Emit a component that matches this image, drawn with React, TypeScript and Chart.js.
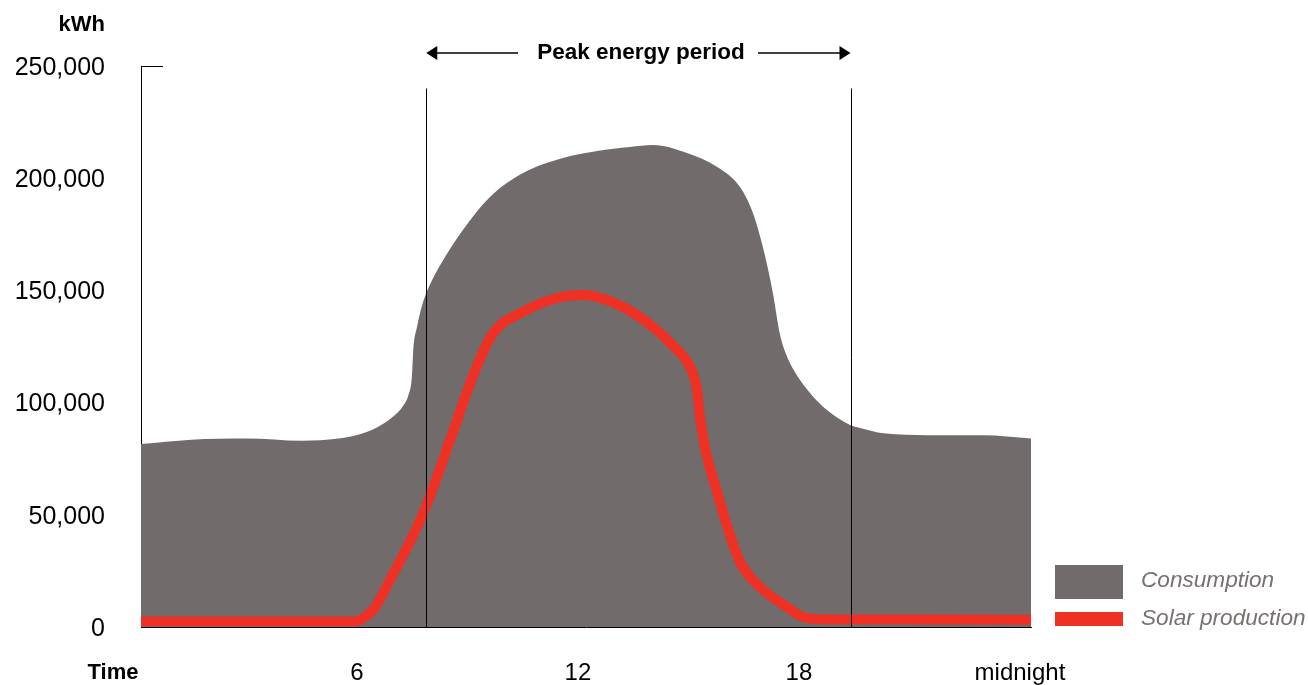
import React, { useEffect, useRef } from "react";
import { Chart, registerables } from "chart.js";

Chart.register(...registerables);

// ---- data ----
const consumptionHours = [0.136, 1.5, 3.0, 4.5, 5.5, 6.1, 6.6, 7.0, 7.25, 7.4, 7.49, 7.53, 7.63, 7.77, 7.98, 8.25, 8.88, 9.61, 10.51, 11.59, 12.52, 13.41, 14.04, 14.96, 15.78, 16.4, 16.75, 17.02, 17.29, 17.49, 17.65, 17.84, 18.3, 18.76, 19.39, 19.66, 20.3, 21.5, 23.0, 24.3];
const consumptionValues = [81500, 83500, 84000, 83000, 84000, 86000, 89500, 94000, 98500, 103500, 111400, 124000, 133700, 143500, 152500, 161000, 177000, 191600, 202300, 209000, 212100, 213900, 214800, 211200, 205000, 196100, 184500, 169300, 149000, 130000, 121500, 115000, 104300, 96700, 90000, 88700, 86300, 85500, 85500, 84000];

const solarHours = [0.136, 3.0, 6.0, 6.16, 6.44, 6.9, 7.8, 8.53, 9.2, 9.7, 10.5, 11.43, 12.14, 12.79, 13.68, 14.6, 15.05, 15.23, 15.31, 15.45, 15.6, 15.78, 16.05, 16.4, 16.94, 17.68, 18.1, 18.6, 21.0, 24.3];
const solarValues = [2500, 2500, 2500, 4000, 7600, 21000, 50800, 83300, 114000, 131000, 140400, 146600, 148000, 145700, 138100, 125000, 115500, 106000, 94000, 80000, 70000, 60000, 45000, 29000, 17800, 8900, 4500, 3500, 3300, 3200];

const xTickValues = [6, 12, 18, 24];
const xTickLabels = ["6", "12", "18", "midnight"];
const yTickValues = [0, 50000, 100000, 150000, 200000, 250000];

const peakStartHour = 7.88;
const peakEndHour = 19.4;
const peakLineTop = 240000;

const seriesNames = ["Consumption", "Solar production"];

const GREY = "#716b6b";
const RED = "#ee3124";
const FONT = "'Liberation Sans', Arial, sans-serif";

const overlayPlugin = {
  id: "overlay",
  afterDatasetsDraw(chart: any) {
    const { ctx, chartArea, scales } = chart;
    const x = scales.x;
    const y = scales.y;
    ctx.save();
    // vertical peak lines
    const xs = x.getPixelForValue(peakStartHour);
    const xe = x.getPixelForValue(peakEndHour);
    const yt = y.getPixelForValue(peakLineTop);
    ctx.strokeStyle = "#000";
    ctx.lineWidth = 1;
    [xs, xe].forEach((px) => {
      const p = Math.round(px) + 0.5;
      ctx.beginPath();
      ctx.moveTo(p, yt);
      ctx.lineTo(p, chartArea.bottom);
      ctx.stroke();
    });
    // top tick on y axis
    const ytop = Math.round(chartArea.top) + 0.5;
    ctx.beginPath();
    ctx.moveTo(chartArea.left, ytop);
    ctx.lineTo(chartArea.left + 22, ytop);
    ctx.stroke();

    // Peak energy period label with arrows
    const cy = 53;
    ctx.fillStyle = "#000";
    ctx.font = `bold 22.5px ${FONT}`;
    ctx.textAlign = "center";
    ctx.textBaseline = "middle";
    ctx.fillText("Peak energy period", 641, cy);
    ctx.lineWidth = 1.3;
    ctx.beginPath();
    ctx.moveTo(xs + 10, cy);
    ctx.lineTo(518, cy);
    ctx.moveTo(758, cy);
    ctx.lineTo(xe - 10, cy);
    ctx.stroke();
    ctx.beginPath();
    ctx.moveTo(xs, cy);
    ctx.lineTo(xs + 11, cy - 7);
    ctx.lineTo(xs + 11, cy + 7);
    ctx.closePath();
    ctx.fill();
    ctx.beginPath();
    ctx.moveTo(xe, cy);
    ctx.lineTo(xe - 11, cy - 7);
    ctx.lineTo(xe - 11, cy + 7);
    ctx.closePath();
    ctx.fill();

    // axis titles
    ctx.font = `bold 22px ${FONT}`;
    ctx.textAlign = "right";
    ctx.fillText("kWh", 105, 25);
    ctx.textAlign = "center";
    ctx.fillText("Time", 113, 673);

    // legend
    ctx.fillStyle = GREY;
    ctx.fillRect(1055, 565, 68, 34);
    ctx.fillStyle = RED;
    ctx.fillRect(1055, 612, 68, 14);
    ctx.fillStyle = "#77716f";
    ctx.font = `italic 22.6px ${FONT}`;
    ctx.textAlign = "left";
    ctx.fillText(seriesNames[0], 1141, 581);
    ctx.fillText(seriesNames[1], 1141, 619);
    ctx.restore();
  },
};

export default function App() {
  const ref = useRef<HTMLCanvasElement | null>(null);
  useEffect(() => {
    if (!ref.current) return;
    const chart = new Chart(ref.current, {
      type: "line",
      data: {
        datasets: [
          {
            label: seriesNames[1],
            data: solarHours.map((h, i) => ({ x: h, y: solarValues[i] })),
            borderColor: RED,
            borderWidth: 10,
            pointRadius: 0,
            fill: false,
            cubicInterpolationMode: "monotone",
            order: 0,
          },
          {
            label: seriesNames[0],
            data: consumptionHours.map((h, i) => ({ x: h, y: consumptionValues[i] })),
            borderWidth: 0,
            borderColor: GREY,
            backgroundColor: GREY,
            pointRadius: 0,
            fill: "origin",
            cubicInterpolationMode: "monotone",
            order: 1,
          },
        ],
      },
      options: {
        responsive: false,
        animation: false,
        devicePixelRatio: 1,
        layout: { padding: { left: 0, right: 277, top: 66, bottom: 0 } },
        plugins: { legend: { display: false }, tooltip: { enabled: false } },
        scales: {
          x: {
            type: "linear",
            min: 0.136,
            max: 24.3,
            grid: { display: true, drawOnChartArea: false, drawTicks: false },
            border: { display: true, color: "#000", width: 1 },
            afterBuildTicks: (axis: any) => {
              axis.ticks = xTickValues.map((v) => ({ value: v }));
            },
            afterFit: (axis: any) => {
              axis.height = 58;
            },
            ticks: {
              color: "#000",
              font: { family: FONT, size: 24 },
              padding: 32,
              maxRotation: 0,
              autoSkip: false,
              callback: (v: any) => {
                const i = xTickValues.indexOf(Number(v));
                return i >= 0 ? xTickLabels[i] : "";
              },
            },
          },
          y: {
            min: 0,
            max: 250000,
            grid: { display: true, drawOnChartArea: false, drawTicks: false },
            border: { display: true, color: "#000", width: 1 },
            afterBuildTicks: (axis: any) => {
              axis.ticks = yTickValues.map((v) => ({ value: v }));
            },
            afterFit: (axis: any) => {
              axis.width = 141;
            },
            ticks: {
              color: "#000",
              font: { family: FONT, size: 25 },
              padding: 36,
              labelOffset: 2,
              autoSkip: false,
              callback: (v: any) => Number(v).toLocaleString("en-US"),
            },
          },
        },
      },
      plugins: [overlayPlugin],
    });
    return () => chart.destroy();
  }, []);
  return (
    <div style={{ position: "fixed", left: 0, top: 0, width: 1308, height: 685, background: "#fff" }}>
      <canvas ref={ref} width={1308} height={685} style={{ width: 1308, height: 685, display: "block" }} />
    </div>
  );
}
